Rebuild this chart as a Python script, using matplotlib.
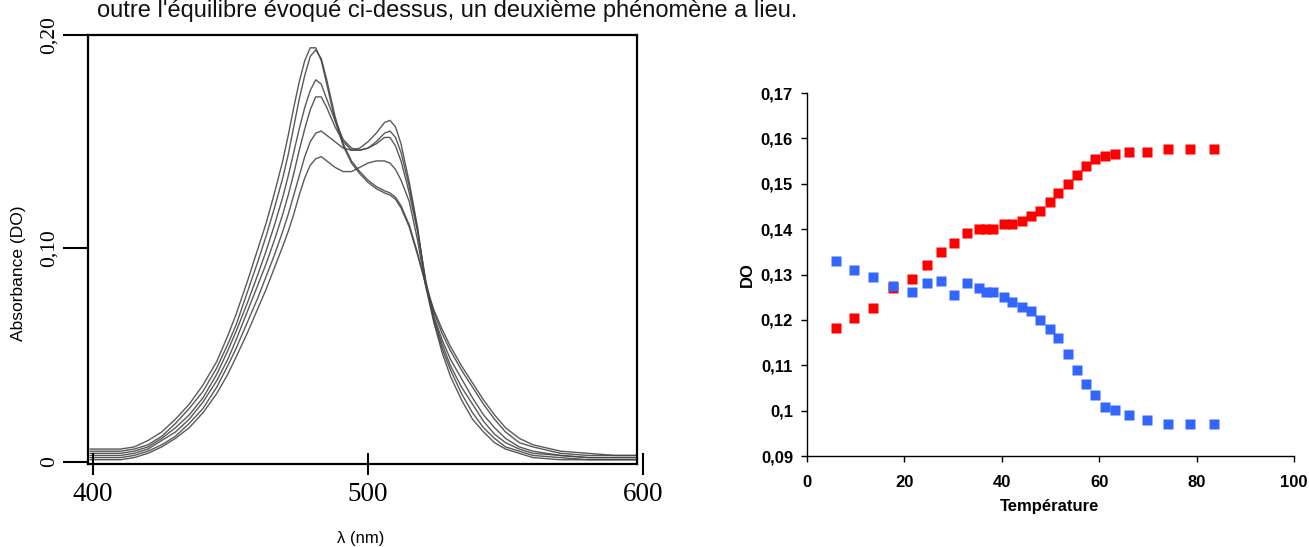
import matplotlib
matplotlib.use("Agg")
import matplotlib.pyplot as plt

# ---------------- data: left panel (spectra) ----------------
wavelength = [399, 405, 410, 415, 420, 425, 430, 435, 440, 445, 449, 452, 456, 460, 463, 466,
              469, 471, 473, 475, 477, 479, 481, 483, 485, 488, 491, 494, 497, 500, 503, 506,
              508, 510, 512, 515, 518, 521, 524, 527, 530, 534, 538, 542, 546, 550, 555, 560,
              570, 580, 590, 597.5]

spec_a = [.006, .006, .006, .007, .010, .014, .020, .027, .036, .047, .059, .069, .084, .100, .112, .126,
          .141, .153, .166, .178, .188, .194, .194, .188, .177, .160, .148, .140, .135, .131, .128, .126,
          .125, .123, .119, .110, .097, .083, .071, .062, .054, .045, .037, .029, .022, .016, .011, .008,
          .005, .004, .003, .003]
spec_b = [.005, .005, .005, .006, .008, .012, .018, .025, .033, .044, .055, .064, .079, .094, .106, .119,
          .133, .144, .157, .170, .181, .190, .193, .189, .179, .162, .149, .141, .136, .132, .129, .127,
          .126, .124, .120, .111, .098, .083, .070, .060, .052, .043, .035, .027, .020, .014, .009, .007,
          .004, .003, .003, .003]
spec_c = [.004, .004, .004, .005, .007, .011, .016, .022, .030, .041, .052, .061, .074, .088, .099, .111,
          .124, .134, .145, .156, .166, .174, .179, .177, .170, .160, .151, .147, .146, .147, .149, .152,
          .152, .148, .141, .126, .108, .085, .068, .057, .048, .039, .030, .022, .016, .011, .007, .005,
          .003, .002, .002, .002]
spec_d = [.003, .003, .003, .004, .006, .010, .014, .020, .028, .038, .048, .057, .070, .083, .093, .104,
          .116, .125, .135, .146, .156, .165, .171, .171, .166, .157, .150, .146, .146, .147, .150, .154,
          .155, .152, .145, .129, .109, .084, .067, .055, .045, .035, .027, .019, .013, .009, .006, .004,
          .003, .002, .002, .002]
spec_e = [.002, .002, .002, .003, .005, .008, .012, .018, .025, .035, .045, .053, .065, .077, .087, .097,
          .108, .116, .125, .134, .143, .150, .154, .155, .153, .150, .147, .146, .147, .150, .154, .159,
          .160, .157, .149, .131, .110, .083, .066, .053, .043, .032, .023, .016, .011, .007, .005, .003,
          .002, .001, .001, .001]
spec_f = [.001, .001, .001, .002, .004, .007, .011, .016, .023, .032, .041, .049, .060, .072, .081, .091,
          .101, .108, .116, .125, .133, .139, .142, .143, .141, .138, .136, .136, .138, .140, .141, .141,
          .140, .137, .132, .122, .104, .082, .065, .051, .040, .029, .020, .014, .009, .006, .004, .002,
          .001, .001, .001, .001]
spectra = [spec_a, spec_b, spec_c, spec_d, spec_e, spec_f]

left_yticks = [0.0, 0.10, 0.20]
left_yticklabels = ["0", "0,10", "0,20"]
left_xticks = [400, 500, 600]
left_xticklabels = ["400", "500", "600"]

# ---------------- data: right panel (DO vs temperature) ----------------
temperature = [5.9, 9.6, 13.5, 17.7, 21.6, 24.7, 27.6, 30.1, 32.9, 35.4, 36.8, 38.2, 40.4, 42.0, 44.2,
               46.0, 47.9, 49.8, 51.6, 53.6, 55.4, 57.3, 59.2, 61.2, 63.2, 66.2, 69.8, 74.1, 78.7, 83.6]
do_red = [0.1181, 0.1205, 0.1226, 0.1270, 0.1290, 0.1320, 0.1349, 0.1369, 0.1391, 0.1401, 0.1401, 0.1401,
          0.1411, 0.1411, 0.1419, 0.1430, 0.1440, 0.1460, 0.1480, 0.1500, 0.1520, 0.1540, 0.1555, 0.1561,
          0.1566, 0.1570, 0.1570, 0.1576, 0.1576, 0.1576]
do_blue = [0.1330, 0.1310, 0.1295, 0.1275, 0.1261, 0.1281, 0.1285, 0.1254, 0.1281, 0.1270, 0.1261, 0.1261,
           0.1250, 0.1240, 0.1229, 0.1220, 0.1200, 0.1180, 0.1160, 0.1125, 0.1090, 0.1059, 0.1034, 0.1009,
           0.1001, 0.0991, 0.0979, 0.0971, 0.0971, 0.0971]

right_yticks = [0.09, 0.10, 0.11, 0.12, 0.13, 0.14, 0.15, 0.16, 0.17]
right_yticklabels = ["0,09", "0,1", "0,11", "0,12", "0,13", "0,14", "0,15", "0,16", "0,17"]
right_xticks = [0, 20, 40, 60, 80, 100]
right_xticklabels = ["0", "20", "40", "60", "80", "100"]

# ---------------- figure ----------------
W, H = 1309, 547
fig = plt.figure(figsize=(W / 100, H / 100), dpi=100)


def rect(x0, y0, x1, y1):
    """pixel box (top-left origin) -> figure fraction rect"""
    return [x0 / W, 1 - y1 / H, (x1 - x0) / W, (y1 - y0) / H]


SANS = "Liberation Sans"
SERIF = "Liberation Serif"

# top cropped sentence
fig.text(97 / W, 1 - 17 / H, "outre l'équilibre évoqué ci-dessus, un deuxième phénomène a lieu.",
         fontsize=17, family=SANS, va="baseline", ha="left", color="#111111")

# ---- left panel ----
ax = fig.add_axes(rect(88, 35, 637, 464))
for s in spectra:
    ax.plot(wavelength, s, color="#474747", lw=1.0, alpha=0.9)
ax.set_xlim(398.2, 597.8)
ax.set_ylim(-0.001, 0.2)
for sp in ax.spines.values():
    sp.set_linewidth(1.6)
    sp.set_color("black")
ax.set_xticks([])
ax.set_yticks(left_yticks)
ax.set_yticklabels(left_yticklabels, family=SERIF, fontsize=15.5, rotation=90, va="center")
ax.tick_params(axis="y", direction="out", length=18, width=1.5, pad=3)

# separate scale carrying the wavelength ticks (400 ... 600)
axt = fig.add_axes(rect(93, 463, 643, 464))
axt.set_xlim(400, 600)
axt.set_ylim(0, 1)
axt.patch.set_visible(False)
for sp in axt.spines.values():
    sp.set_visible(False)
axt.set_yticks([])
axt.set_xticks(left_xticks)
axt.set_xticklabels(left_xticklabels, family=SERIF, fontsize=19.5)
axt.tick_params(axis="x", direction="inout", length=16, width=1.5, pad=5)

fig.text(19 / W, 1 - 273 / H, "Absorbance (DO)", rotation=90, family=SANS, fontsize=12.5,
         ha="center", va="center")
fig.text(361 / W, 1 - 539 / H, "λ (nm)", family=SANS, fontsize=12,
         ha="center", va="center")

# ---- right panel ----
ax2 = fig.add_axes(rect(807, 93, 1294, 456))
ax2.plot(temperature, do_red, ls="none", marker="s", ms=6.6, color="#ff0000", mec="none")
ax2.plot(temperature, do_blue, ls="none", marker="s", ms=6.6, color="#3366ff", mec="none")
ax2.set_xlim(0, 100)
ax2.set_ylim(0.09, 0.17)
ax2.spines["top"].set_visible(False)
ax2.spines["right"].set_visible(False)
for k in ("left", "bottom"):
    ax2.spines[k].set_linewidth(1.0)
    ax2.spines[k].set_color("black")
ax2.set_xticks(right_xticks)
ax2.set_xticklabels(right_xticklabels, family=SANS, fontsize=12, fontweight="bold")
ax2.set_yticks(right_yticks)
ax2.set_yticklabels(right_yticklabels, family=SANS, fontsize=12, fontweight="bold")
ax2.tick_params(axis="both", direction="out", length=4, width=1.0)
ax2.tick_params(axis="y", pad=6)
ax2.tick_params(axis="x", pad=10)

fig.text(1050 / W, 1 - 506 / H, "Température", family=SANS, fontsize=12, fontweight="bold",
         ha="center", va="center")
fig.text(747 / W, 1 - 275 / H, "DO", family=SANS, fontsize=12, fontweight="bold", rotation=90,
         ha="center", va="center")

fig.savefig("out.png", dpi=100)
